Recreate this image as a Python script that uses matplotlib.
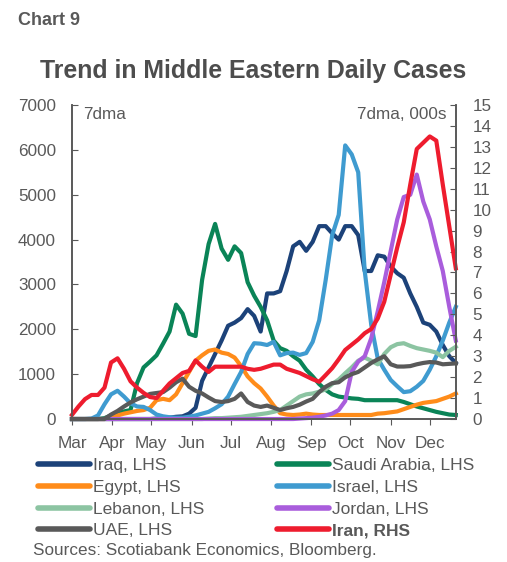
import pandas as pd
import matplotlib.pyplot as plt
import matplotlib.dates as mdates

plt.rcParams['font.family'] = ['Liberation Sans', 'DejaVu Sans']

# 7-day moving average, sampled every 5 days from 1 Mar
fechas = pd.date_range("2020-03-01", periods=60, freq="5D")

iraq = [0, 0, 0, 0, 0, 0, 0, 0, 0, 0, 0, 0, 0, 10, 20, 30, 50, 60, 120, 250,
        850, 1150, 1450, 1750, 2080, 2150, 2250, 2450, 2300, 1950, 2800, 2800, 2850, 3300, 3850, 3950,
        3750, 3950, 4300, 4300, 4140, 4000, 4300, 4300, 4100, 3300, 3300, 3650, 3620, 3400,
        3250, 3150, 2800, 2500, 2150, 2100, 1950, 1650, 1400, 1250]
saudi = [0, 0, 0, 0, 0, 20, 80, 130, 170, 200, 800, 1150, 1280, 1420, 1680, 1950, 2550, 2350, 1900, 1850,
         3100, 3900, 4350, 3800, 3550, 3850, 3700, 3050, 2750, 2500, 2200, 1750, 1580, 1520, 1400, 1300,
         1100, 950, 780, 650, 550, 500, 480, 460, 450, 420, 420, 420, 420, 420,
         420, 380, 330, 280, 240, 200, 160, 130, 100, 90]
egypt = [0, 0, 0, 0, 0, 0, 50, 80, 120, 150, 180, 200, 250, 420, 450, 420, 550, 800, 1050, 1300,
         1420, 1520, 1550, 1480, 1450, 1370, 1180, 950, 800, 680, 500, 300, 130, 100, 90, 100,
         120, 100, 90, 90, 90, 90, 90, 90, 90, 90, 90, 120, 130, 150,
         170, 220, 270, 320, 360, 380, 400, 450, 500, 570]
israel = [0, 0, 0, 10, 80, 330, 550, 630, 500, 350, 280, 270, 200, 100, 60, 40, 30, 30, 50, 80,
          120, 160, 240, 330, 500, 780, 1050, 1450, 1690, 1680, 1650, 1720, 1420, 1470, 1480, 1430,
          1470, 1720, 2200, 3100, 4100, 4550, 6100, 5900, 5500, 3300, 2100, 1350, 1100, 870,
          730, 600, 620, 720, 850, 1100, 1400, 1750, 2150, 2500]
lebanon = [0, 0, 0, 0, 0, 0, 0, 0, 0, 0, 0, 0, 0, 0, 0, 0, 0, 0, 0, 0,
           0, 10, 20, 20, 30, 40, 50, 70, 90, 110, 130, 160, 200, 300, 400, 500,
           550, 570, 610, 660, 780, 880, 1020, 1150, 1300, 1370, 1300, 1220, 1450, 1600,
           1670, 1690, 1630, 1580, 1550, 1520, 1480, 1380, 1520, 1610]
jordan = [0, 0, 0, 0, 0, 0, 0, 0, 0, 0, 0, 0, 0, 0, 0, 0, 0, 0, 0, 0,
          0, 0, 0, 0, 0, 0, 0, 0, 0, 0, 0, 0, 0, 0, 0, 10,
          20, 30, 50, 80, 120, 200, 400, 1050, 1280, 1400, 1800, 2400, 3050, 3750,
          4450, 4950, 5000, 5450, 4850, 4450, 3850, 3300, 2500, 1750]
uae = [0, 0, 0, 0, 0, 0, 100, 180, 280, 370, 440, 500, 560, 580, 600, 700, 820, 900, 720, 630,
       570, 480, 400, 380, 400, 450, 570, 380, 300, 270, 300, 250, 200, 240, 270, 320,
       390, 450, 600, 720, 800, 820, 930, 1000, 1050, 1150, 1250, 1330, 1400, 1220,
       1170, 1170, 1180, 1220, 1250, 1270, 1260, 1220, 1230, 1240]
# Iran on the right axis, thousands
iran = [0.2, 0.6, 0.95, 1.15, 1.15, 1.5, 2.7, 2.9, 2.4, 1.8, 1.5, 1.25, 1.05, 1.0, 1.35, 1.7, 1.95, 2.2, 2.3, 2.8,
        2.5, 2.25, 2.5, 2.5, 2.5, 2.5, 2.5, 2.4, 2.35, 2.4, 2.5, 2.6, 2.6, 2.4, 2.3, 2.2,
        2.05, 1.9, 1.78, 2.1, 2.43, 2.85, 3.3, 3.55, 3.8, 4.1, 4.3, 4.8, 5.6, 6.9,
        8.2, 9.4, 11.2, 12.9, 13.2, 13.5, 13.3, 11.2, 9.2, 7.2]

series_lhs = [
    ("Iraq, LHS", iraq, "#1c4279"),
    ("Saudi Arabia, LHS", saudi, "#0a8457"),
    ("Egypt, LHS", egypt, "#ff8c1a"),
    ("Israel, LHS", israel, "#3f9bd0"),
    ("Lebanon, LHS", lebanon, "#8cc4a2"),
    ("Jordan, LHS", jordan, "#a95ddc"),
    ("UAE, LHS", uae, "#595959"),
]

gris = "#595959"
fs = 12.3
fig = plt.figure(figsize=(5.07, 5.62), dpi=100)
ax = fig.add_axes([0.142, 0.2544, 0.757, 0.5587])
ax2 = ax.twinx()

lineas = {}
for nombre, vals, col in series_lhs:
    l, = ax.plot(fechas, vals, color=col, lw=3.0, clip_on=False)
    lineas[nombre] = l
l, = ax2.plot(fechas, iran, color="#ee1c2e", lw=3.0, clip_on=False)
lineas["Iran, RHS"] = l

ax.set_ylim(0, 7000)
ax.set_yticks(range(0, 7001, 1000))
ax2.set_ylim(0, 15)
ax2.set_yticks(range(0, 16))
ax.set_xlim(pd.Timestamp("2020-03-01"), pd.Timestamp("2020-12-21"))
ax.xaxis.set_major_locator(mdates.MonthLocator())
ax.xaxis.set_major_formatter(mdates.DateFormatter("%b"))

for a in (ax, ax2):
    a.spines["top"].set_visible(False)
    for s in ("left", "right", "bottom"):
        a.spines[s].set_color(gris)
        a.spines[s].set_linewidth(1.2)
ax.tick_params(axis="y", direction="in", length=4, color=gris, labelcolor=gris, labelsize=fs, pad=11.5)
ax2.tick_params(axis="y", direction="in", length=4, color=gris, labelcolor=gris, labelsize=fs, pad=12)
ax.tick_params(axis="x", direction="out", length=4, color=gris, labelcolor=gris, labelsize=fs, pad=8)

ax.text(0.03, 0.995, "7dma", transform=ax.transAxes, ha="left", va="top", color=gris, fontsize=fs)
ax2.text(0.975, 0.995, "7dma, 000s", transform=ax.transAxes, ha="right", va="top", color=gris, fontsize=fs)

fig.text(0.035, 0.963, "Chart 9", fontsize=13, fontweight="bold", color=gris, ha="left", va="center")
fig.text(0.5, 0.874, "Trend in Middle Eastern Daily Cases", fontsize=17.9, fontweight="bold",
         color="#4d4d4d", ha="center", va="center")

orden = ["Iraq, LHS", "Egypt, LHS", "Lebanon, LHS", "UAE, LHS",
         "Saudi Arabia, LHS", "Israel, LHS", "Jordan, LHS", "Iran, RHS"]
leg = fig.legend([lineas[n] for n in orden], orden, ncol=2, loc="upper left",
                 bbox_to_anchor=(0.075, 0.185), frameon=False, fontsize=12.5,
                 handlelength=3.0, handletextpad=0.15, columnspacing=4.2,
                 labelspacing=0.38, borderpad=0, borderaxespad=0)
for t in leg.get_texts():
    t.set_color(gris)
    if t.get_text() == "Iran, RHS":
        t.set_fontweight("bold")
for h in leg.get_lines():
    h.set_linewidth(4)
    h.set_solid_capstyle("round")

fig.text(0.065, 0.021, "Sources: Scotiabank Economics, Bloomberg.", fontsize=fs, color=gris,
         ha="left", va="center")

fig.savefig("out.png", dpi=100)
